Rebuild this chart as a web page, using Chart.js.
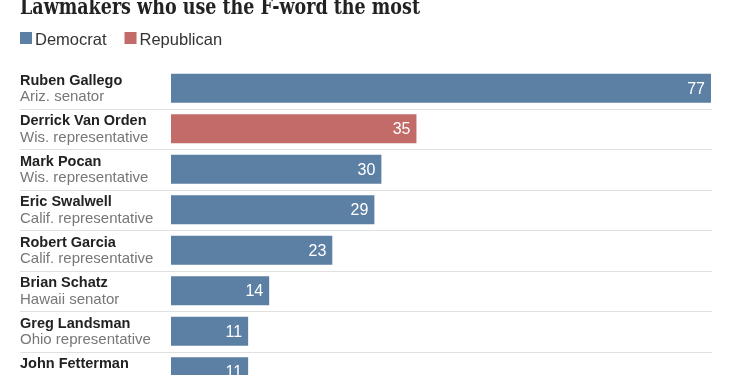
<!DOCTYPE html>
<html>
<head>
<meta charset="utf-8">
<script src="https://cdn.jsdelivr.net/npm/chart.js@4"></script>
<style>
  html, body { margin: 0; padding: 0; background: #fff; overflow: hidden; }
</style>
</head>
<body>
<canvas id="myChart" width="750" height="400"></canvas>
<script>
const names = ['Ruben Gallego', 'Derrick Van Orden', 'Mark Pocan', 'Eric Swalwell',
    'Robert Garcia', 'Brian Schatz', 'Greg Landsman', 'John Fetterman'];
const roles = ['Ariz. senator', 'Wis. representative', 'Wis. representative', 'Calif. representative',
    'Calif. representative', 'Hawaii senator', 'Ohio representative', 'Pa. senator'];
const counts = [77, 35, 30, 29, 23, 14, 11, 11];
const party = ['D', 'R', 'D', 'D', 'D', 'D', 'D', 'D'];

const title = 'Lawmakers who use the F-word the most';

// draws title, legend, row labels, separators and value labels
const labelsPlugin = {
    id: 'rowLabels',
    afterDatasetsDraw(chart) {
        const ctx = chart.ctx;
        const y = chart.scales.y;
        ctx.save();

        // title (cut off at the top like the original), squeezed to the original width
        ctx.save();
        ctx.fillStyle = '#222';
        ctx.font = 'bold 22px "DejaVu Serif"';
        ctx.textBaseline = 'alphabetic';
        ctx.textAlign = 'left';
        const tw = ctx.measureText(title).width;
        ctx.translate(20, 14);
        ctx.scale(400 / tw, 1);
        ctx.fillText(title, 0, 0);
        ctx.restore();

        // legend
        let lx = 20;
        ctx.font = '16.5px "Liberation Sans"';
        ctx.textBaseline = 'alphabetic';
        ctx.textAlign = 'left';
        chart.data.datasets.forEach(ds => {
            ctx.fillStyle = ds.backgroundColor;
            ctx.fillRect(lx, 32, 12, 12);
            ctx.fillStyle = '#333';
            ctx.fillText(ds.label, lx + 15, 44.5);
            lx += 15 + ctx.measureText(ds.label).width + 18;
        });

        // separators between rows
        ctx.fillStyle = '#e0e0e0';
        for (let i = 1; i < names.length; i++) {
            const sy = Math.round((y.getPixelForValue(i - 1) + y.getPixelForValue(i)) / 2);
            ctx.fillRect(20, sy, 692, 1);
        }

        // names and roles
        names.forEach((n, i) => {
            const cy = y.getPixelForValue(i);
            ctx.fillStyle = '#222';
            ctx.font = 'bold 14.5px "Liberation Sans"';
            ctx.fillText(n, 20, cy - 3.5);
            ctx.fillStyle = '#777';
            ctx.font = '15px "Liberation Sans"';
            ctx.fillText(roles[i], 20, cy + 13);
        });

        // values inside bar ends
        ctx.fillStyle = '#fff';
        ctx.font = '16px "Liberation Sans"';
        ctx.textAlign = 'right';
        ctx.textBaseline = 'middle';
        chart.data.datasets.forEach((ds, di) => {
            const meta = chart.getDatasetMeta(di);
            meta.data.forEach((bar, i) => {
                if (ds.data[i] == null) return;
                ctx.fillText(String(ds.data[i]), bar.x - 6, bar.y + 1);
            });
        });
        ctx.restore();
    }
};

const ctx = document.getElementById('myChart').getContext('2d');
new Chart(ctx, {
    type: 'bar',
    data: {
        labels: names,
        datasets: [{
            label: 'Democrat',
            data: counts.map((c, i) => party[i] === 'D' ? c : null),
            backgroundColor: '#5c7fa4'
        }, {
            label: 'Republican',
            data: counts.map((c, i) => party[i] === 'R' ? c : null),
            backgroundColor: '#c36b68'
        }]
    },
    options: {
        indexAxis: 'y',
        responsive: false,
        animation: false,
        categoryPercentage: 1,
        barPercentage: 0.72,
        layout: { padding: { left: 171, right: 39, top: 68, bottom: 8 } },
        plugins: {
            legend: { display: false },
            tooltip: { enabled: false }
        },
        scales: {
            x: { display: false, min: 0, max: 77, stacked: true },
            y: { display: false, stacked: true }
        }
    },
    plugins: [labelsPlugin]
});
</script>
</body>
</html>
